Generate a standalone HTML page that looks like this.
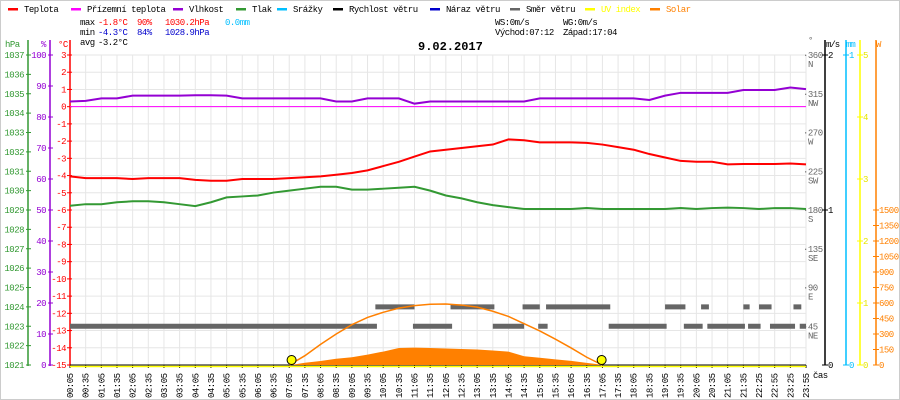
<!DOCTYPE html>
<html><head><meta charset="utf-8"><style>
html,body{margin:0;padding:0;background:#fff}
svg{display:block}
text{font-family:"Liberation Mono",monospace;font-size:9px;letter-spacing:-0.5px}
</style></head><body>
<svg id="chart" width="900" height="400" xmlns="http://www.w3.org/2000/svg">
<rect x="0.5" y="0.5" width="899" height="399" fill="#fff" stroke="#ccc"/>
<g id="grid"></g>
<g id="legend"></g>
<g>
<text x="80" y="25">max</text><text x="98" y="25" fill="#f00">-1.8°C</text><text x="137" y="25" fill="#f00">90%</text><text x="165" y="25" fill="#f00">1030.2hPa</text><text x="225" y="25" fill="#00bfff">0.0mm</text>
<text x="80" y="35">min</text><text x="98" y="35" fill="#00c">-4.3°C</text><text x="137" y="35" fill="#00c">84%</text><text x="165" y="35" fill="#00c">1028.9hPa</text>
<text x="80" y="45">avg</text><text x="98" y="45">-3.2°C</text>
<text x="495" y="25">WS:0m/s</text><text x="563" y="25">WG:0m/s</text>
<text x="495" y="35">Východ:07:12</text><text x="563" y="35">Západ:17:04</text>
</g>
<text x="418" y="50" style="font-size:12px;font-weight:bold;letter-spacing:0">9.02.2017</text>
<g id="axes"></g>
<g id="series"></g>
</svg>
<script>
// ---- data ----
const timeLabels=["00:05","00:35","01:05","01:35","02:05","02:35","03:05","03:35","04:05","04:35","05:05","05:35","06:05","06:35","07:05","07:35","08:05","08:35","09:05","09:35","10:05","10:35","11:05","11:35","12:05","12:35","13:05","13:35","14:05","14:35","15:05","15:35","16:05","16:35","17:05","17:35","18:05","18:35","19:05","19:35","20:05","20:35","21:05","21:35","22:25","22:55","23:25","23:55"];
const temperature=[-4.05,-4.15,-4.15,-4.15,-4.2,-4.15,-4.15,-4.15,-4.25,-4.3,-4.3,-4.2,-4.2,-4.2,-4.15,-4.1,-4.05,-3.95,-3.85,-3.7,-3.45,-3.2,-2.9,-2.6,-2.5,-2.4,-2.3,-2.2,-1.9,-1.95,-2.07,-2.07,-2.07,-2.1,-2.2,-2.35,-2.5,-2.75,-2.95,-3.15,-3.2,-3.2,-3.35,-3.33,-3.33,-3.33,-3.3,-3.35];
const apparentTemp=[0,0,0,0,0,0,0,0,0,0,0,0,0,0,0,0,0,0,0,0,0,0,0,0,0,0,0,0,0,0,0,0,0,0,0,0,0,0,0,0,0,0,0,0,0,0,0,0];
const humidity=[85,85.2,86,86,86.9,86.9,86.9,86.9,87,87,86.9,86,86,86,86,86,86,85,85,86,86,86,84.3,85,85,85,85,85,85,85,86,86,86,86,86,86,86,85.5,86.9,87.8,87.8,87.8,87.8,88.7,88.7,88.7,89.5,89];
const pressure=[1029.22,1029.3,1029.3,1029.4,1029.45,1029.45,1029.4,1029.3,1029.2,1029.4,1029.65,1029.7,1029.75,1029.9,1030.0,1030.1,1030.2,1030.2,1030.05,1030.05,1030.1,1030.15,1030.2,1030.0,1029.75,1029.6,1029.4,1029.25,1029.15,1029.05,1029.05,1029.05,1029.05,1029.1,1029.05,1029.05,1029.05,1029.05,1029.05,1029.1,1029.05,1029.1,1029.12,1029.1,1029.05,1029.1,1029.1,1029.05];
const solarSlots=[14.1,15,16,17,18,19,20,21,22,23,24,25,26,27,28,29,30,31,32,33,34.1];
const solarValues=[0,22,39,60,75,100,130,165,168,165,160,155,150,140,130,85,70,55,40,20,0];
const solarTheoSlots=[14.0,15,16,17,18,19,20,21,22,23,24,25,26,27,28,29,30,31,32,33,34.0];
const solarTheoValues=[0,90,200,300,390,460,510,550,575,588,590,580,560,520,470,400,330,250,165,75,0];
const windStart=[0,19.5,21.9,24.3,27.0,28.9,29.9,30.4,34.4,38.0,39.2,40.3,40.7,43.0,43.3,44.0,44.7,46.2,46.6];
const windEnd=[19.6,22.0,24.4,27.1,29.0,30.0,30.5,34.5,38.1,39.3,40.4,40.8,43.1,43.4,44.1,44.8,46.3,46.7,47];
const windDir=[45,67.5,45,67.5,45,67.5,45,67.5,45,67.5,45,67.5,45,67.5,45,67.5,45,67.5,45];
const sunEvents=[14.15,33.95];
// ---- scales ----
const X0=70,X1=806,YT=55,YB=365;
const step=(X1-X0)/(timeLabels.length-1);
const xs=i=>X0+i*step;
const yT=v=>YT+(3-v)*(YB-YT)/18;
const yH=v=>YT+(100-v)*(YB-YT)/100;
const yP=v=>YT+(1037-v)*(YB-YT)/16;
const yD=v=>YB-v*(YB-YT)/360;
const yW=v=>YB-v*(YB-210)/1500;
const NS="http://www.w3.org/2000/svg";
function mk(tag,attrs,parent,txt){const e=document.createElementNS(NS,tag);for(const k in attrs)e.setAttribute(k,attrs[k]);if(txt!==undefined)e.textContent=txt;parent.appendChild(e);return e;}
const grid=document.getElementById('grid'),axes=document.getElementById('axes'),ser=document.getElementById('series'),leg=document.getElementById('legend');
for(let i=0;i<timeLabels.length;i++){
  const l=mk('line',{x1:xs(i),x2:xs(i),y1:YT,y2:YB,stroke:'#e6e6e6'},grid);
  
  
  const t=mk('text',{transform:`translate(${xs(i)+3},398) rotate(-90)`,fill:'#000'},axes,timeLabels[i]);
  
  
  mk('line',{x1:xs(i),x2:xs(i),y1:YB,y2:YB+3,stroke:'#000'},axes);
}
for(let v=-15;v<=3;v++){
  const l=mk('line',{x1:X0,x2:X1,y1:yT(v),y2:yT(v),stroke:'#e6e6e6'},grid);
  
  
}
function vaxis(x,color){mk('line',{x1:x,x2:x,y1:YT-15,y2:YB+1,stroke:color,'stroke-width':1.5},axes);}
vaxis(28,'#339933');vaxis(50,'#9400d3');vaxis(70,'#f00');
mk('text',{x:5,y:47,fill:'#339933'},axes,'hPa');mk('text',{x:41,y:47,fill:'#9400d3'},axes,'%');mk('text',{x:58,y:47,fill:'#f00'},axes,'°C');
for(let p=1021;p<=1037;p++){const y=yP(p);mk('line',{x1:26,x2:31,y1:y,y2:y,stroke:'#339933'},axes);
  const t=mk('text',{x:24,y:y+3,fill:'#339933','text-anchor':'end'},axes,p);}
for(let h=0;h<=100;h+=10){const y=yH(h);mk('line',{x1:48,x2:53,y1:y,y2:y,stroke:'#9400d3'},axes);
  const t=mk('text',{x:46,y:y+3,fill:'#9400d3','text-anchor':'end'},axes,h);}
for(let v=-15;v<=3;v++){const y=yT(v);mk('line',{x1:67,x2:72,y1:y,y2:y,stroke:'#f00'},axes);
  const t=mk('text',{x:66,y:y+3,fill:'#f00','text-anchor':'end'},axes,v);}
const dirLab=['','NE','E','SE','S','SW','W','NW','N'];
for(let d=45;d<=360;d+=45){const y=yD(d);mk('text',{x:803,y:y+3,fill:'#666'},axes,'·'+d);mk('text',{x:808,y:y+12,fill:'#666'},axes,dirLab[d/45]);}
mk('text',{x:808,y:43,fill:'#666'},axes,'°');
mk('line',{x1:825,x2:825,y1:40,y2:YB,stroke:'#000','stroke-width':1.5},axes);
mk('text',{x:826,y:47,fill:'#000',style:'letter-spacing:-1px'},axes,'m/s');
[[2,YT],[1,210],[0,YB]].forEach(a=>{mk('line',{x1:822,x2:828,y1:a[1],y2:a[1],stroke:'#000'},axes);mk('text',{x:828,y:a[1]+3},axes,a[0]);});
mk('line',{x1:846,x2:846,y1:40,y2:YB,stroke:'#00bfff','stroke-width':1.5},axes);
mk('text',{x:846,y:47,fill:'#00bfff',style:'letter-spacing:-1px'},axes,'mm');
[[1,YT],[0,YB]].forEach(a=>{mk('line',{x1:843,x2:849,y1:a[1],y2:a[1],stroke:'#00bfff'},axes);mk('text',{x:849,y:a[1]+3,fill:'#00bfff'},axes,a[0]);});
mk('line',{x1:860,x2:860,y1:40,y2:YB,stroke:'#ffff00','stroke-width':1.5},axes);
for(let u=0;u<=5;u++){const y=YB-u*(YB-YT)/5;mk('line',{x1:857,x2:863,y1:y,y2:y,stroke:'#ffff00'},axes);mk('text',{x:863,y:y+3,fill:'#e6e600'},axes,u);}
mk('line',{x1:876,x2:876,y1:40,y2:YB,stroke:'#ff8000','stroke-width':1.5},axes);
mk('text',{x:876,y:47,fill:'#ff8000'},axes,'W');
for(let w=0;w<=1500;w+=150){const y=yW(w);mk('line',{x1:873,x2:879,y1:y,y2:y,stroke:'#ff8000'},axes);mk('text',{x:879,y:y+3,fill:'#ff8000'},axes,w);}
mk('text',{x:813,y:378},axes,'čas');
mk('line',{x1:X0,x2:X1,y1:YB,y2:YB,stroke:'#000','stroke-width':1},axes);
mk('line',{x1:X0,x2:X1,y1:YB+1.5,y2:YB+1.5,stroke:'#ffff00','stroke-width':1.5},axes);
const legItems=[['Teplota','#f00',8],['Přízemní teplota','#ff00ff',71],['Vlhkost','#9400d3',173],['Tlak','#339933',236],['Srážky','#00bfff',277],['Rychlost větru','#000',333],['Náraz větru','#0000cc',430],['Směr větru','#666',510],['UV index','#ffff00',585],['Solar','#ff8000',650]];
legItems.forEach(it=>{const g=mk('g',{},leg);
  
  
  mk('rect',{x:it[2],y:8,width:10,height:2.5,fill:it[1]},g);
  mk('text',{x:it[2]+16,y:12,fill:(it[0]==='UV index'?'#ffff00':it[0]==='Solar'?'#ff8000':'#000')},g,it[0]);});
for(let k=0;k<windDir.length;k++){const r=mk('rect',{x:xs(windStart[k]),y:yD(windDir[k])-2.5,width:xs(windEnd[k])-xs(windStart[k]),height:5,fill:'#666'},ser);
  }
let d='M'+xs(solarSlots[0])+','+YB;
for(let k=0;k<solarSlots.length;k++)d+=' L'+xs(solarSlots[k])+','+yW(solarValues[k]);
d+=' L'+xs(solarSlots[solarSlots.length-1])+','+YB+'Z';
const sa=mk('path',{d:d,fill:'#ff8000'},ser);
const st=mk('polyline',{points:solarTheoSlots.map((s,k)=>xs(s)+','+yW(solarTheoValues[k])).join(' '),fill:'none',stroke:'#ff8000','stroke-width':1.5},ser);

function line(vals,yf,color,name,w){const p=mk('polyline',{points:vals.map((v,i)=>xs(i)+','+yf(v)).join(' '),fill:'none',stroke:color,'stroke-width':w||2},ser);
  }
line(apparentTemp,yT,'#ff00ff','apparent-temperature-line',1);
line(humidity,yH,'#9400d3','humidity-line');
line(pressure,yP,'#339933','pressure-line');
line(temperature,yT,'#f00','temperature-line');
sunEvents.forEach(s=>{const c=mk('circle',{cx:xs(s),cy:360,r:4.5,fill:'#ffff00',stroke:'#000','stroke-width':1},ser);
  });
</script>
</body></html>
